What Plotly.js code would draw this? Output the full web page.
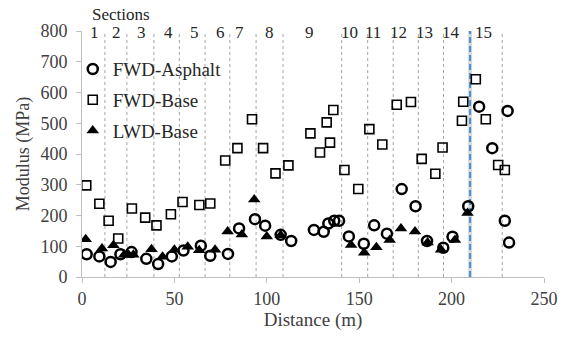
<!DOCTYPE html>
<html>
<head>
<meta charset="utf-8">
<script src="https://cdn.plot.ly/plotly-3.0.1.min.js"></script>
<style>html,body{margin:0;padding:0;background:#fff;}#chart{width:568px;height:343px;}</style>
</head>
<body>
<div id="chart"></div>
<script>
// ---- data ----
const asphaltX = [2.5, 9.4, 15.5, 20.8, 26.8, 34.8, 41.2, 48.6, 54.9, 64.3, 69.4, 79, 85, 93.6, 99.1, 107.5, 113.2, 125.5, 130.8, 133.3, 136.5, 139.1, 144.4, 152.5, 158.1, 165, 173, 180.5, 186.7, 195.5, 200.5, 209, 214.9, 222, 230.3, 228.8, 231.1];
const asphaltY = [74, 67, 49, 74, 81, 59, 42, 67, 86, 102, 69, 75, 158, 188, 167, 137, 117, 153, 147, 174, 183, 183, 132, 108, 168, 141, 286, 230, 117, 95, 131, 230, 554, 419, 540, 183, 112];

const fwdBaseX = [2.3, 9.4, 14.4, 19.6, 27, 34.2, 40.3, 48.1, 54.4, 63.5, 69.4, 77.5, 84.1, 92, 98, 104.7, 111.7, 123.6, 128.8, 132.4, 134.2, 136, 142, 149.5, 155.5, 162.5, 170.3, 178, 183.8, 191.2, 195.1, 205.6, 206.3, 213.1, 218.5, 225.2, 228.8];
const fwdBaseY = [298, 238, 183, 125, 223, 193, 168, 204, 244, 234, 239, 379, 419, 513, 419, 337, 363, 467, 405, 503, 437, 543, 348, 286, 481, 431, 560, 569, 384, 336, 421, 508, 570, 643, 513, 364, 348];

const lwdBaseX = [2, 10.8, 17, 22.8, 25.2, 27.8, 37.6, 43.6, 50, 57.2, 63.4, 72, 78.8, 86.5, 93.2, 100, 107.5, 145.6, 152.7, 159.3, 166.5, 172.6, 180.2, 187, 194.3, 201.8, 208.6];
const lwdBaseY = [123, 93, 103, 72, 72, 72, 90, 66, 89, 98, 87, 89, 148, 138, 252, 132, 136, 104, 79, 97, 120, 158, 148, 112, 89, 120, 208];

const sectionBounds = [12.4, 24.3, 38.9, 52.7, 66.6, 80, 94.2, 108.8, 140.5, 154.6, 168.4, 182, 195.6, 227.4];
const transitionX = 210;
const sectionLabels = ['1','2','3','4','5','6','7','8','9','10','11','12','13','14','15'];
const sectionLabelX = [7, 18.4, 32.4, 46.8, 60.9, 75, 85, 101.2, 123, 144.5, 157.6, 171.5, 185.6, 199.6, 217.5];

// ---- chart ----
const FONT = '"Liberation Serif", "Times New Roman", serif';
const TXT = '#404040';

const traces = [
  {x: asphaltX, y: asphaltY, name: 'FWD-Asphalt', type: 'scatter', mode: 'markers', legendgroup: 'a',
   marker: {symbol: 'circle-open', size: 10, color: '#000', line: {width: 2.5}}},
  {x: fwdBaseX, y: fwdBaseY, name: 'FWD-Base', type: 'scatter', mode: 'markers', legendgroup: 'b',
   marker: {symbol: 'square-open', size: 9, color: '#000', line: {width: 1.6}}},
  {x: lwdBaseX, y: lwdBaseY, name: 'LWD-Base', type: 'scatter', mode: 'markers', legendgroup: 'c',
   marker: {symbol: 'triangle-up', size: 11, color: '#000', line: {width: 0}}}
];

const shapes = sectionBounds.map(b => ({
  type: 'line', xref: 'x', yref: 'y', x0: b, x1: b, y0: 0, y1: 800,
  line: {color: '#a6a6a6', width: 1, dash: '3px,3px'}, layer: 'below'
}));
shapes.push({type: 'line', xref: 'x', yref: 'y', x0: transitionX, x1: transitionX, y0: 0, y1: 800,
  line: {color: '#d9d9d9', width: 4}, layer: 'below'});
shapes.push({type: 'line', xref: 'x', yref: 'y', x0: transitionX, x1: transitionX, y0: 0, y1: 800,
  line: {color: '#4a8fd4', width: 2, dash: '6px,3px'}, layer: 'below'});

const annotations = sectionLabels.map((t, i) => ({
  x: sectionLabelX[i], y: 795, xref: 'x', yref: 'y', text: t, showarrow: false,
  xanchor: 'center', yanchor: 'middle', font: {family: FONT, size: 17, color: '#262626'}
}));
annotations.push({x: 0.018, y: 1.069, xref: 'paper', yref: 'paper', text: 'Sections', showarrow: false,
  xanchor: 'left', yanchor: 'middle', font: {family: FONT, size: 17, color: '#262626'}});

const layout = {
  width: 568, height: 343,
  margin: {l: 82, r: 24, t: 31, b: 66},
  paper_bgcolor: '#fff', plot_bgcolor: '#fff',
  font: {family: FONT, size: 18, color: TXT},
  showlegend: true,
  legend: {x: -0.02, y: 0.922, xanchor: 'left', yanchor: 'top', bgcolor: 'rgba(0,0,0,0)',
           font: {family: FONT, size: 19, color: '#262626'}, tracegroupgap: 3, itemwidth: 30},
  xaxis: {range: [0, 250], tickvals: [0, 50, 100, 150, 200, 250], showgrid: false, zeroline: false,
          showline: true, linecolor: '#bfbfbf', linewidth: 1, ticks: 'outside', ticklen: 5, tickcolor: '#bfbfbf',
          tickfont: {family: FONT, size: 18, color: TXT},
          title: {text: 'Distance (m)', font: {family: FONT, size: 19, color: TXT}, standoff: 5}},
  yaxis: {range: [0, 800], tickvals: [0, 100, 200, 300, 400, 500, 600, 700, 800], showgrid: false, zeroline: false,
          showline: true, linecolor: '#bfbfbf', linewidth: 1, ticks: 'outside', ticklen: 5, tickcolor: '#bfbfbf',
          tickfont: {family: FONT, size: 18, color: TXT}, ticklabelstandoff: 5,
          title: {text: 'Modulus (MPa)', font: {family: FONT, size: 18, color: TXT}, standoff: 6}},
  shapes: shapes,
  annotations: annotations
};

Plotly.newPlot('chart', traces, layout, {displayModeBar: false, staticPlot: true});
</script>
</body>
</html>
